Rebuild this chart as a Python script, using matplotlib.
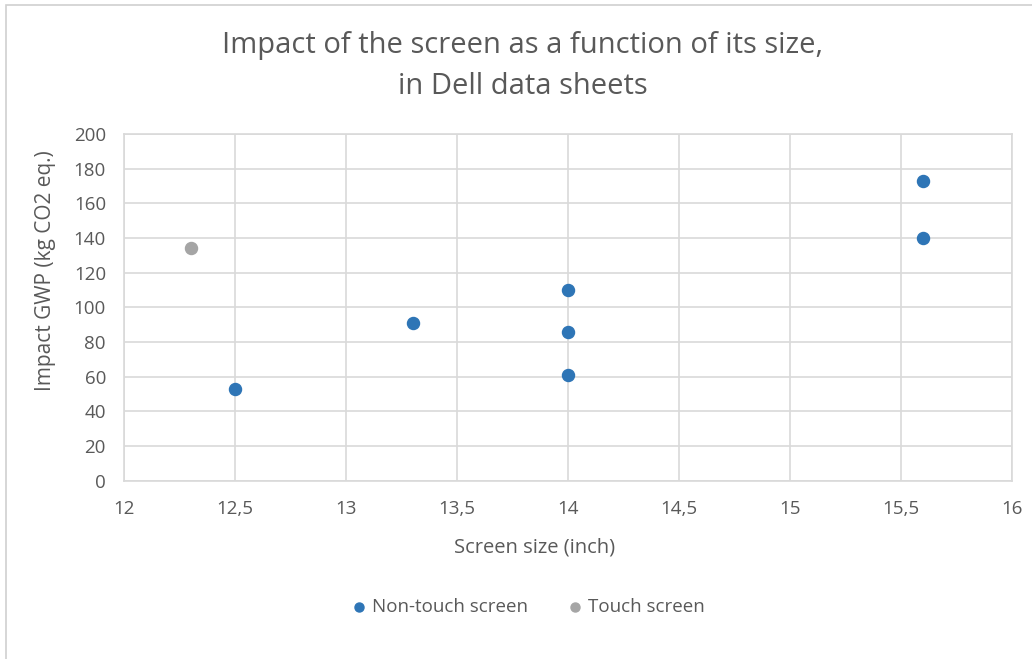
import matplotlib.pyplot as plt
from matplotlib.patches import Rectangle

non_touch_size = [12.5, 13.3, 14, 14, 14, 15.6, 15.6]
non_touch_gwp = [53, 91, 110, 86, 61, 173, 140]
touch_size = [12.3]
touch_gwp = [134]

x_ticks = [12, 12.5, 13, 13.5, 14, 14.5, 15, 15.5, 16]
y_ticks = list(range(0, 201, 20))

plt.rcParams['font.family'] = ['Open Sans', 'DejaVu Sans']
text_col = '#595959'
grid_col = '#d9d9d9'

W, H = 1032, 659
fig = plt.figure(figsize=(W / 100, H / 100), dpi=100)
fig.patches.append(Rectangle((6 / W, -0.1), 1.2, 1 - 5 / H + 0.1,
                             transform=fig.transFigure, fill=False,
                             edgecolor='#d0d0d0', linewidth=1.2))
ax = fig.add_axes([124 / W, 1 - 480.7 / H, 888 / W, 346.7 / H])

ax.scatter(non_touch_size, non_touch_gwp, s=75, color='#2e75b6',
           label='Non-touch screen', zorder=3)
ax.scatter(touch_size, touch_gwp, s=75, color='#a5a5a5',
           label='Touch screen', zorder=3)

ax.set_xlim(12, 16)
ax.set_ylim(0, 200)
ax.set_xticks(x_ticks)
ax.set_xticklabels([str(t).replace('.', ',') for t in x_ticks])
ax.set_yticks(y_ticks)
ax.grid(True, color=grid_col, linewidth=1.2)
ax.set_axisbelow(True)
for sp in ax.spines.values():
    sp.set_color(grid_col)
    sp.set_linewidth(1.2)
ax.tick_params(length=0, labelsize=13.5, colors=text_col)
ax.tick_params(axis='x', pad=14)
ax.tick_params(axis='y', pad=13)

# axis titles placed like the Excel original (slightly off centre)
fig.text(535 / W, 1 - 547 / H, 'Screen size (inch)', ha='center', va='center',
         fontsize=14.5, color=text_col)
fig.text(46 / W, 1 - 271 / H, 'Impact GWP (kg CO2 eq.)', ha='center', va='center',
         rotation=90, fontsize=15, color=text_col)

fig.text(523 / W, 1 - 46 / H, 'Impact of the screen as a function of its size,',
         ha='center', va='center', fontsize=21, color=text_col)
fig.text(523 / W, 1 - 86 / H, 'in Dell data sheets',
         ha='center', va='center', fontsize=21, color=text_col)

fig.legend(loc='center', bbox_to_anchor=(529 / W, 1 - 607 / H), ncol=2, frameon=False,
           fontsize=13.5, labelcolor=text_col, handlelength=0.6, handletextpad=0.4,
           columnspacing=2.2, markerscale=0.75)

fig.savefig('out.png', dpi=100)
